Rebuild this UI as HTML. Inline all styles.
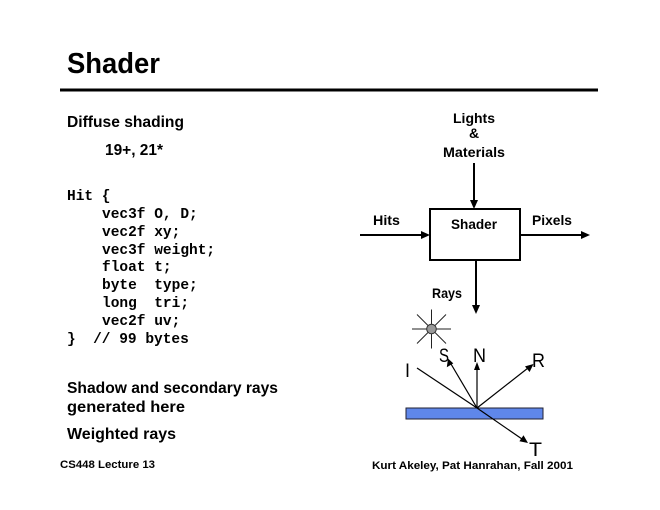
<!DOCTYPE html>
<html><head><meta charset="utf-8"><style>
html,body{margin:0;padding:0;background:#fff;}
svg{display:block;}
.s{font-family:"Liberation Sans",sans-serif;font-weight:bold;fill:#000;}
.m{font-family:"Liberation Mono",monospace;font-weight:bold;font-size:14.5px;fill:#000;white-space:pre;}
.t{font-family:"Liberation Sans",sans-serif;font-weight:normal;font-size:19px;fill:#000;}
</style></head><body>
<svg width="660" height="510" viewBox="0 0 660 510" xmlns="http://www.w3.org/2000/svg">
<rect width="660" height="510" fill="#fff"/>
<text class="s" x="67" y="73" font-size="29" textLength="93" lengthAdjust="spacingAndGlyphs">Shader</text>
<line x1="60" y1="90" x2="598" y2="90" stroke="#000" stroke-width="3"/>
<text class="s" x="67" y="127" font-size="15.5" textLength="117" lengthAdjust="spacingAndGlyphs">Diffuse shading</text>
<text class="s" x="105" y="155" font-size="15.5" textLength="58" lengthAdjust="spacingAndGlyphs">19+, 21*</text>
<text class="m" x="67" y="200">Hit {</text>
<text class="m" x="102" y="218">vec3f O, D;</text>
<text class="m" x="102" y="236">vec2f xy;</text>
<text class="m" x="102" y="254">vec3f weight;</text>
<text class="m" x="102" y="271">float t;</text>
<text class="m" x="102" y="289" xml:space="preserve">byte  type;</text>
<text class="m" x="102" y="307" xml:space="preserve">long  tri;</text>
<text class="m" x="102" y="325">vec2f uv;</text>
<text class="m" x="67" y="343" xml:space="preserve">}  // 99 bytes</text>
<text class="s" x="67" y="393" font-size="15.5" textLength="211" lengthAdjust="spacingAndGlyphs">Shadow and secondary rays</text>
<text class="s" x="67" y="412" font-size="15.5" textLength="118" lengthAdjust="spacingAndGlyphs">generated here</text>
<text class="s" x="67" y="439" font-size="15.5" textLength="109" lengthAdjust="spacingAndGlyphs">Weighted rays</text>
<text class="s" x="60" y="468" font-size="11" textLength="95" lengthAdjust="spacingAndGlyphs">CS448 Lecture 13</text>
<text class="s" x="372" y="469" font-size="11" textLength="201" lengthAdjust="spacingAndGlyphs">Kurt Akeley, Pat Hanrahan, Fall 2001</text>

<!-- block diagram -->
<text class="s" x="453" y="123" font-size="14" textLength="42" lengthAdjust="spacingAndGlyphs">Lights</text>
<text class="s" x="474" y="138" font-size="14" text-anchor="middle">&amp;</text>
<text class="s" x="443" y="157" font-size="14" textLength="62" lengthAdjust="spacingAndGlyphs">Materials</text>
<line x1="474" y1="163" x2="474" y2="201" stroke="#000" stroke-width="2"/>
<polygon points="470,200 478,200 474,209" fill="#000"/>
<rect x="430" y="209" width="90" height="51" fill="#fff" stroke="#000" stroke-width="2"/>
<text class="s" x="451" y="229" font-size="14" textLength="46" lengthAdjust="spacingAndGlyphs">Shader</text>
<text class="s" x="373" y="225" font-size="14" textLength="27" lengthAdjust="spacingAndGlyphs">Hits</text>
<line x1="360" y1="235" x2="422" y2="235" stroke="#000" stroke-width="2"/>
<polygon points="421,231 421,239 430,235" fill="#000"/>
<text class="s" x="532" y="225" font-size="14" textLength="40" lengthAdjust="spacingAndGlyphs">Pixels</text>
<line x1="520" y1="235" x2="582" y2="235" stroke="#000" stroke-width="2"/>
<polygon points="581,231 581,239 590,235" fill="#000"/>
<line x1="476" y1="260" x2="476" y2="306" stroke="#000" stroke-width="2"/>
<polygon points="472,305 480,305 476,314" fill="#000"/>
<text class="s" x="432" y="298" font-size="14" textLength="30" lengthAdjust="spacingAndGlyphs">Rays</text>

<!-- sun -->
<g stroke="#222" stroke-width="1">
<line x1="412" y1="329" x2="451" y2="329"/>
<line x1="431.5" y1="309.5" x2="431.5" y2="348.5"/>
<line x1="417" y1="314.5" x2="446" y2="343.5"/>
<line x1="446" y1="314.5" x2="417" y2="343.5"/>
</g>
<circle cx="431.5" cy="329" r="4.8" fill="#999" stroke="#333" stroke-width="1"/>

<!-- surface -->
<rect x="406" y="408" width="137" height="11" fill="#5f87ea" stroke="#223" stroke-width="1"/>
<g stroke="#000" stroke-width="1.2">
<line x1="417" y1="368" x2="477" y2="408"/>
<line x1="477" y1="408" x2="451" y2="364"/>
<line x1="477" y1="408" x2="477" y2="368"/>
<line x1="477" y1="408" x2="528" y2="368"/>
<line x1="477" y1="408" x2="522" y2="439"/>
</g>
<polygon points="448,358.5 446.8,367.2 453.3,363.4" fill="#000"/>
<polygon points="477,362 474,370 480,370" fill="#000"/>
<polygon points="533.5,364 525,366.4 529.6,372" fill="#000"/>
<polygon points="528,443 519.4,441.3 523.5,435.3" fill="#000"/>
<text class="t" x="439" y="362" textLength="10" lengthAdjust="spacingAndGlyphs">S</text>
<text class="t" x="473" y="362" textLength="13" lengthAdjust="spacingAndGlyphs">N</text>
<text class="t" x="532" y="367" textLength="13" lengthAdjust="spacingAndGlyphs">R</text>
<text class="t" x="405" y="377" textLength="5" lengthAdjust="spacingAndGlyphs">I</text>
<text class="t" x="529" y="456" textLength="13" lengthAdjust="spacingAndGlyphs">T</text>
</svg>
</body></html>
